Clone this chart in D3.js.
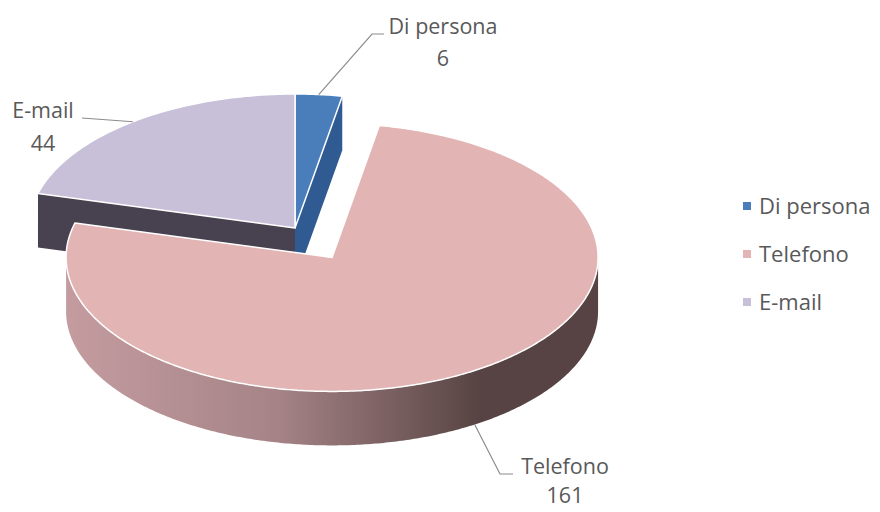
<!DOCTYPE html>
<html>
<head>
<meta charset="utf-8">
<script src="https://cdn.jsdelivr.net/npm/d3@7"></script>
<style>
  body { margin: 0; background: #fff; }
  text { font-family: "Open Sans", Lato, sans-serif; fill: #595959; }
</style>
</head>
<body>
<svg id="chart" width="880" height="512"></svg>
<script>
const categories = ["Di persona", "Telefono", "E-mail"];
const values = [6, 161, 44];

// styling per slice
const topColors = ["#4a7ebb", "#e2b4b4", "#c8c0d8"];
const sideLight = ["#3866a3", "#c49ca0", "#48414f"];
const sideDark = ["#2f5a92", "#574343", "#48414f"];
const explode = [0, 0.26, 0];

// label layout (same order as categories): text centre, leader elbow and end
const labelPos = [
  { x: 443, y: 34, dy: 32, elbow: [372, 34], end: [384, 34] },
  { x: 565, y: 474, dy: 29, elbow: [500, 474], end: [513, 474] },
  { x: 43, y: 118, dy: 33, elbow: null, end: [82, 118] }
];

const svg = d3.select("#chart");
const cx = 295, cy = 228, rx = 266, ry = 134, depth = 54;

const arcs = d3.pie().sort(null).value(d => d)(values);

function origin(i) {
  const a = arcs[i];
  const mid = (a.startAngle + a.endAngle) / 2;
  return [cx + explode[i] * rx * Math.sin(mid), cy - explode[i] * ry * Math.cos(mid)];
}

function pt(o, a, z) {
  return [o[0] + rx * Math.sin(a), o[1] - ry * Math.cos(a) + z];
}

function arcPoints(o, a0, a1, z) {
  const n = Math.max(2, Math.ceil((a1 - a0) / 0.01));
  return d3.range(n + 1).map(k => pt(o, a0 + (a1 - a0) * k / n, z));
}

const line = d3.line();
const defs = svg.append("defs");

// back slices first
const order = d3.range(values.length).sort((a, b) => origin(a)[1] - origin(b)[1]);

order.forEach(i => {
  const a = arcs[i];
  const o = origin(i);
  const g = svg.append("g");

  // radial faces that look toward the viewer
  const faces = [];
  if (Math.sin(a.startAngle) < -1e-6) faces.push(a.startAngle);
  if (Math.sin(a.endAngle) > 1e-6) faces.push(a.endAngle);
  faces.forEach(ang => {
    const e0 = pt(o, ang, 0), e1 = pt(o, ang, depth);
    g.append("path")
      .attr("d", line([[o[0], o[1]], e0, e1, [o[0], o[1] + depth]]) + "Z")
      .attr("fill", sideDark[i]);
  });

  // outer wall (front half only)
  const w0 = Math.max(a.startAngle, Math.PI / 2);
  const w1 = Math.min(a.endAngle, Math.PI * 3 / 2);
  if (w1 > w0) {
    const gid = "wall" + i;
    const left = pt(o, w1, 0)[0], right = pt(o, w0, 0)[0];
    const grad = defs.append("linearGradient").attr("id", gid)
      .attr("gradientUnits", "userSpaceOnUse")
      .attr("x1", left).attr("x2", right).attr("y1", 0).attr("y2", 0);
    grad.append("stop").attr("offset", 0).attr("stop-color", sideLight[i]);
    grad.append("stop").attr("offset", 0.4).attr("stop-color", d3.interpolateRgb(sideLight[i], sideDark[i])(0.28));
    grad.append("stop").attr("offset", 0.78).attr("stop-color", sideDark[i]);
    grad.append("stop").attr("offset", 1).attr("stop-color", sideDark[i]);
    const topEdge = arcPoints(o, w0, w1, 0);
    const botEdge = arcPoints(o, w0, w1, depth).reverse();
    g.append("path")
      .attr("d", line(topEdge.concat(botEdge)) + "Z")
      .attr("fill", "url(#" + gid + ")");
  }

  // top face
  g.append("path")
    .attr("d", line([[o[0], o[1]]].concat(arcPoints(o, a.startAngle, a.endAngle, 0))) + "Z")
    .attr("fill", topColors[i])
    .attr("stroke", "#fff")
    .attr("stroke-width", 1.5)
    .attr("stroke-linejoin", "round");
});

// data labels with leader lines
arcs.forEach((a, i) => {
  const o = origin(i);
  const mid = (a.startAngle + a.endAngle) / 2;
  const onFront = Math.cos(mid) < 0;
  const anchor = pt(o, mid, onFront ? depth : 0);
  const L = labelPos[i];
  const pts = [anchor];
  if (L.elbow) pts.push(L.elbow);
  pts.push(L.end);
  svg.append("path")
    .attr("d", line(pts))
    .attr("fill", "none")
    .attr("stroke", "#8c8c8c")
    .attr("stroke-width", 1.2);

  const t = svg.append("text")
    .attr("x", L.x).attr("y", L.y)
    .attr("text-anchor", "middle")
    .attr("font-size", 21.5);
  t.append("tspan").attr("x", L.x).text(categories[i]);
  t.append("tspan").attr("x", L.x).attr("dy", L.dy).text(values[i]);
});

// legend
const legendY = d3.scalePoint().domain(categories).range([206, 302]);
const lg = svg.append("g").selectAll("g").data(categories).join("g")
  .attr("transform", d => `translate(743,${legendY(d)})`);
lg.append("rect").attr("x", 0).attr("y", -4).attr("width", 8).attr("height", 8)
  .attr("fill", (d, i) => topColors[i]);
lg.append("text").attr("x", 16).attr("dy", "0.35em")
  .attr("font-size", 22).text(d => d);
</script>
</body>
</html>
